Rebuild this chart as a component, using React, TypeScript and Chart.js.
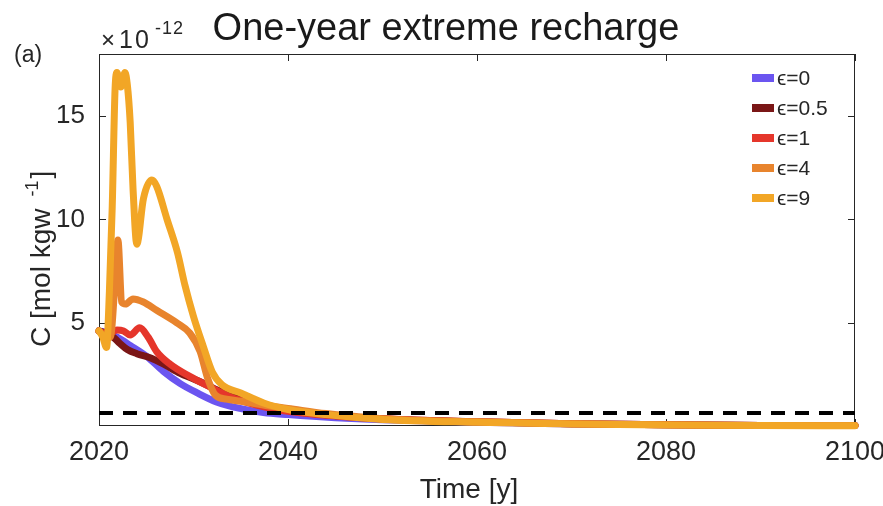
import { useEffect, useRef } from "react";
import { Chart, registerables } from "chart.js";

Chart.register(...registerables);

// Concentration C (×10^-12 mol kgw^-1) after a one-year extreme recharge event
const seriesLabels = ["ϵ=0", "ϵ=0.5", "ϵ=1", "ϵ=4", "ϵ=9"];
const seriesColors = ["#6b55f0", "#7a1616", "#e5362b", "#e8842d", "#f2a626"];

const yearsEps0 = [2020, 2021, 2021.9, 2023.3, 2025.1, 2026.8, 2028.6, 2030.4, 2032.5, 2034.9, 2037.4, 2040, 2045, 2050, 2060, 2070, 2080, 2090, 2100];
const concEps0 = [4.6, 4.5, 4.3, 3.9, 3.35, 2.65, 2.05, 1.6, 1.15, 0.85, 0.65, 0.55, 0.4, 0.3, 0.18, 0.1, 0.06, 0.03, 0.02];

const yearsEps05 = [2020, 2020.6, 2021.5, 2022.2, 2023, 2024, 2025.4, 2026.8, 2028.6, 2030.4, 2032.5, 2034.6, 2036.7, 2040, 2045, 2050, 2060, 2070, 2080, 2090, 2100];
const concEps05 = [4.6, 4.5, 4.3, 4.0, 3.7, 3.5, 3.3, 3.0, 2.55, 2.2, 1.75, 1.35, 1.05, 0.75, 0.5, 0.35, 0.2, 0.11, 0.06, 0.03, 0.02];

const yearsEps1 = [2020, 2020.6, 2021.2, 2021.9, 2022.6, 2023.3, 2024.3, 2025.2, 2026.1, 2027.5, 2029.6, 2031.7, 2033.9, 2036, 2038.8, 2042, 2046, 2050, 2060, 2070, 2080, 2090, 2100];
const concEps1 = [4.6, 4.5, 4.5, 4.65, 4.6, 4.4, 4.75, 4.3, 3.6, 3.0, 2.4, 1.9, 1.4, 1.1, 0.8, 0.6, 0.45, 0.35, 0.2, 0.11, 0.06, 0.03, 0.02];

const yearsEps4 = [2020, 2020.5, 2021.2, 2021.7, 2022.0, 2022.4, 2022.8, 2023.6, 2024.7, 2026.1, 2028.2, 2029.6, 2030.7, 2031.5, 2032.3, 2033.5, 2035, 2037.5, 2040, 2044, 2050, 2060, 2070, 2080, 2090, 2100];
const concEps4 = [4.6, 4.4, 4.3, 7.0, 9.0, 6.0, 5.9, 6.15, 6.0, 5.6, 5.0, 4.5, 3.6, 2.3, 1.5, 1.3, 1.2, 1.0, 0.85, 0.6, 0.35, 0.2, 0.11, 0.06, 0.03, 0.02];

const yearsEps9 = [2020, 2020.4, 2020.8, 2021.1, 2021.4, 2021.7, 2021.9, 2022.3, 2022.75, 2023.0, 2023.3, 2023.6, 2024.0, 2024.7, 2025.6, 2026.1, 2027.2, 2028.3, 2029.1, 2030, 2031, 2032, 2033, 2035, 2037.5, 2040, 2044, 2050, 2060, 2070, 2080, 2090, 2100];
const concEps9 = [4.6, 4.3, 3.8, 6.5, 10.6, 16.3, 17.1, 16.4, 17.1, 16.5, 14.7, 11.5, 8.8, 11.0, 11.9, 11.6, 10.0, 8.4, 6.8, 5.3, 3.9, 2.6, 2.0, 1.6, 1.1, 0.8, 0.55, 0.32, 0.18, 0.1, 0.05, 0.02, 0.01];

const seriesYears = [yearsEps0, yearsEps05, yearsEps1, yearsEps4, yearsEps9];
const seriesConc = [concEps0, concEps05, concEps1, concEps4, concEps9];

const thresholdValue = 0.63;
const xTicks = [2020, 2040, 2060, 2080, 2100];
const yTicks = [5, 10, 15];

const FONT = "'Liberation Sans', Arial, Helvetica, sans-serif";
const INK = "#262626";

const framePlugin = {
  id: "frameTicks",
  beforeDatasetsDraw(chart: any) {
    const { ctx, chartArea: a, scales } = chart;
    const tl = 7;
    ctx.save();
    ctx.strokeStyle = INK;
    ctx.lineWidth = 1;
    ctx.strokeRect(a.left + 0.5, a.top + 0.5, a.width - 1, a.height - 1);
    ctx.beginPath();
    for (const v of xTicks) {
      const x = Math.round(scales.x.getPixelForValue(v)) + 0.5;
      ctx.moveTo(x, a.bottom);
      ctx.lineTo(x, a.bottom - tl);
      ctx.moveTo(x, a.top);
      ctx.lineTo(x, a.top + tl);
    }
    for (const v of yTicks) {
      const y = Math.round(scales.y.getPixelForValue(v)) + 0.5;
      ctx.moveTo(a.left, y);
      ctx.lineTo(a.left + tl, y);
      ctx.moveTo(a.right, y);
      ctx.lineTo(a.right - tl, y);
    }
    ctx.stroke();
    ctx.restore();
  },
};

const legendPlugin = {
  id: "insideLegend",
  afterDatasetsDraw(chart: any) {
    const { ctx, chartArea: a } = chart;
    const items = chart.data.datasets.filter((d: any) => d.inLegend);
    const x0 = a.right - 103;
    const y0 = a.top + 24;
    const step = 30;
    ctx.save();
    ctx.font = `21px ${FONT}`;
    ctx.textBaseline = "middle";
    ctx.textAlign = "left";
    items.forEach((d: any, i: number) => {
      const y = y0 + i * step;
      ctx.fillStyle = d.borderColor;
      ctx.fillRect(x0, y - 4, 22, 8);
      ctx.fillStyle = INK;
      ctx.fillText(d.label, x0 + 25, y + 1);
    });
    ctx.restore();
  },
};

const textPlugin = {
  id: "annotations",
  afterDraw(chart: any) {
    const { ctx } = chart;
    ctx.save();
    ctx.fillStyle = "#1a1a1a";
    ctx.textBaseline = "alphabetic";

    ctx.font = `38px ${FONT}`;
    ctx.textAlign = "center";
    ctx.fillText("One-year extreme recharge", 446, 40);

    // axis multiplier
    ctx.textAlign = "left";
    ctx.fillStyle = INK;
    ctx.font = `24px ${FONT}`;
    ctx.fillText("×", 101, 48);
    ctx.font = `25px ${FONT}`;
    (ctx as any).letterSpacing = "2px";
    ctx.fillText("10", 119, 48);
    ctx.font = `18px ${FONT}`;
    (ctx as any).letterSpacing = "1px";
    ctx.fillText("-12", 155, 34);
    (ctx as any).letterSpacing = "0px";

    ctx.font = `23px ${FONT}`;
    ctx.fillText("(a)", 14, 62);

    ctx.font = `28px ${FONT}`;
    ctx.textAlign = "center";
    ctx.fillText("Time [y]", 469, 498);

    // rotated y-axis title with superscript exponent
    ctx.save();
    ctx.translate(50, 347);
    ctx.rotate(-Math.PI / 2);
    ctx.textAlign = "left";
    ctx.font = `28px ${FONT}`;
    const main = "C [mol kgw";
    ctx.fillText(main, 0, 0);
    const w1 = ctx.measureText(main).width;
    ctx.font = `18px ${FONT}`;
    ctx.fillText("-1", w1 + 12, -12);
    const w2 = ctx.measureText("-1").width;
    ctx.font = `28px ${FONT}`;
    ctx.fillText("]", w1 + 12 + w2 + 2, 0);
    ctx.restore();

    ctx.restore();
  },
};

export default function App() {
  const canvasRef = useRef<HTMLCanvasElement | null>(null);

  useEffect(() => {
    if (!canvasRef.current) return;

    const curves = seriesLabels.map((label, i) => ({
      label,
      inLegend: true,
      data: seriesYears[i].map((yr, j) => ({ x: yr, y: seriesConc[i][j] })),
      borderColor: seriesColors[i],
      backgroundColor: seriesColors[i],
      borderWidth: 7,
      pointRadius: 0,
      fill: false,
      cubicInterpolationMode: "monotone" as const,
      borderCapStyle: "round" as const,
      borderJoinStyle: "round" as const,
      clip: 8,
      order: seriesLabels.length - i,
    }));

    const threshold = {
      label: "threshold",
      inLegend: false,
      data: [
        { x: xTicks[0], y: thresholdValue },
        { x: xTicks[xTicks.length - 1], y: thresholdValue },
      ],
      borderColor: "#000000",
      borderWidth: 4,
      borderDash: [14, 10],
      borderCapStyle: "butt" as const,
      pointRadius: 0,
      fill: false,
      order: 0,
    };

    const chart = new Chart(canvasRef.current, {
      type: "line",
      data: { datasets: [threshold, ...curves] as any },
      options: {
        animation: false,
        responsive: false,
        devicePixelRatio: 1,
        layout: { padding: { left: 0, top: 54, right: 28, bottom: 0 } },
        plugins: {
          legend: { display: false },
          tooltip: { enabled: false },
          title: { display: false },
        },
        scales: {
          x: {
            type: "linear",
            min: 2020,
            max: 2100,
            grid: { display: false, drawTicks: false },
            border: { display: false },
            afterBuildTicks: (s: any) => {
              s.ticks = xTicks.map((v) => ({ value: v }));
            },
            afterFit: (s: any) => {
              s.height = 80;
              s.paddingLeft = 0;
              s.paddingRight = 0;
            },
            ticks: {
              font: { family: FONT, size: 27 },
              color: INK,
              padding: 10,
              maxRotation: 0,
              autoSkip: false,
              callback: (v: any) => String(v),
            },
          },
          y: {
            type: "linear",
            min: 0,
            max: 18,
            grid: { display: false, drawTicks: false },
            border: { display: false },
            afterBuildTicks: (s: any) => {
              s.ticks = yTicks.map((v) => ({ value: v }));
            },
            afterFit: (s: any) => {
              s.width = 99;
              s.paddingTop = 0;
              s.paddingBottom = 0;
            },
            ticks: {
              font: { family: FONT, size: 26 },
              color: INK,
              padding: 14,
              callback: (v: any) => String(v),
            },
          },
        },
      },
      plugins: [framePlugin, legendPlugin, textPlugin],
    });

    return () => chart.destroy();
  }, []);

  return (
    <div style={{ position: "fixed", left: 0, top: 0, width: 883, height: 506, background: "#ffffff" }}>
      <canvas ref={canvasRef} width={883} height={506} style={{ display: "block" }} />
    </div>
  );
}
